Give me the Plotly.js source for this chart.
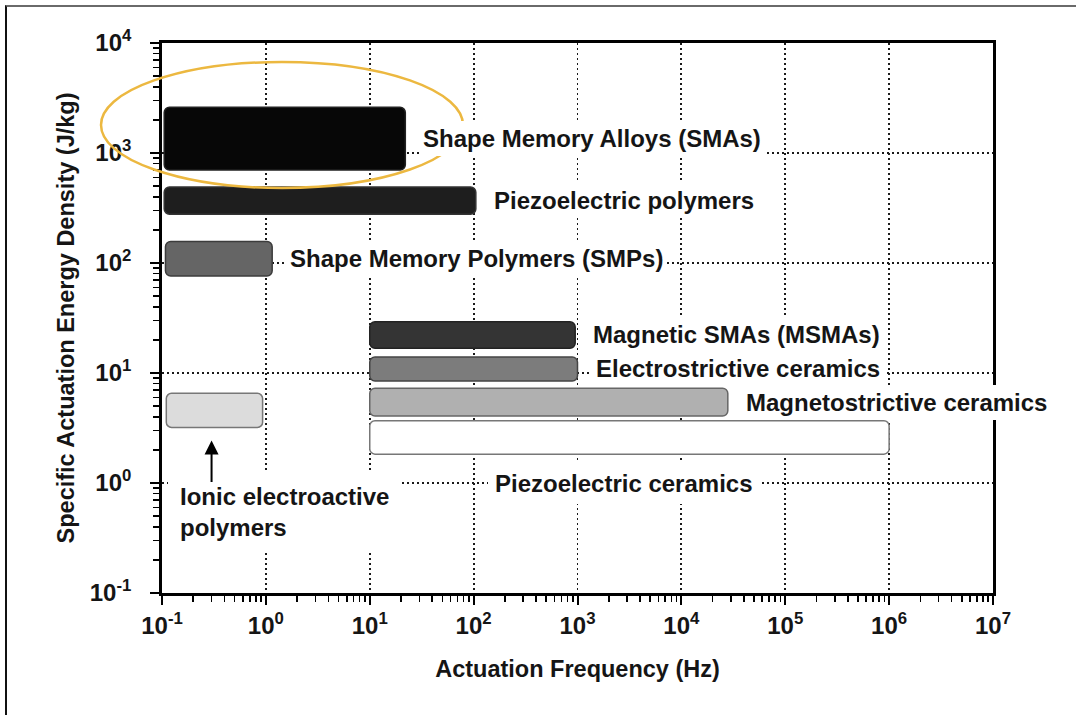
<!DOCTYPE html>
<html>
<head>
<meta charset="utf-8">
<script src="https://cdn.plot.ly/plotly-3.0.1.min.js"></script>
<style>
  html, body { margin: 0; padding: 0; background: #fff; }
  #chart { width: 1076px; height: 715px; }
  #frame { position: absolute; left: 5px; top: 5px; right: 0; bottom: 0;
           border-top: 2px solid #6a6a6a; border-left: 2px solid #111; pointer-events: none; }
</style>
</head>
<body>
<div id="chart"></div>
<div id="frame"></div>
<script>
// ---- data ----
const materials = [
  'Shape Memory Alloys (SMAs)',
  'Piezoelectric polymers',
  'Shape Memory Polymers (SMPs)',
  'Magnetic SMAs (MSMAs)',
  'Electrostrictive ceramics',
  'Magnetostrictive ceramics',
  'Piezoelectric ceramics',
  'Ionic electroactive<br>polymers'
];
const freqMin   = [0.105, 0.105, 0.108, 10, 10, 10, 10, 0.11];     // Hz
const freqMax   = [22, 105, 1.15, 950, 1000, 28000, 1e6, 0.93];    // Hz
const energyMin = [700, 278, 76, 16.8, 8.45, 4.06, 1.83, 3.2];      // J/kg
const energyMax = [2600, 490, 157, 29.3, 14, 7.26, 3.68, 6.53];     // J/kg
const fillColors = ['#070707', '#1e1e1e', '#656565', '#343434', '#7c7c7c', '#b0b0b0', '#ffffff', '#dcdcdc'];
const lineColors = ['#222222', '#333333', '#3c3c3c', '#222222', '#444444', '#666666', '#777777', '#777777'];
const labelPlacement = ['right', 'right', 'right', 'right', 'right', 'right', 'below', 'belowLeft'];

const xTickVals = [0.1, 1, 10, 100, 1e3, 1e4, 1e5, 1e6, 1e7];
const xTickText = ['10<sup>-1</sup>', '10<sup>0</sup>', '10<sup>1</sup>', '10<sup>2</sup>', '10<sup>3</sup>',
                   '10<sup>4</sup>', '10<sup>5</sup>', '10<sup>6</sup>', '10<sup>7</sup>'];
const yTickVals = [0.1, 1, 10, 100, 1e3, 1e4];
const yTickText = ['10<sup>-1</sup>', '10<sup>0</sup>', '10<sup>1</sup>', '10<sup>2</sup>', '10<sup>3</sup>', '10<sup>4</sup>'];
const arrowFreq = 0.3;  // Hz, arrow pointing at the ionic EAP bar

// ---- derived (log10 space for the overlay linear axes) ----
const L = Math.log10;
const barBase = freqMin.map(L);
const barLen = freqMax.map((v, i) => L(v) - L(freqMin[i]));
const barMid = energyMin.map((v, i) => (L(v) + L(energyMax[i])) / 2);
const barThk = energyMin.map((v, i) => L(energyMax[i]) - L(v));

const FONT = 'Liberation Sans, Arial, Helvetica, sans-serif';
const TXT = '#151515';

const bars = {
  type: 'bar', orientation: 'h',
  xaxis: 'x2', yaxis: 'y2',
  base: barBase, x: barLen, y: barMid, width: barThk,
  marker: { color: fillColors, line: { color: lineColors, width: 1.5 }, cornerradius: 6 },
  hoverinfo: 'skip', showlegend: false
};

// invisible trace on the log axes so they render
const anchor = {
  type: 'scatter', mode: 'markers', x: [1], y: [1],
  marker: { opacity: 0 }, hoverinfo: 'skip', showlegend: false
};

const annotations = [];
materials.forEach((name, i) => {
  const common = {
    text: name, showarrow: false, xref: 'x2', yref: 'y2',
    font: { family: FONT, size: 24, color: TXT, weight: 'bold' },
    bgcolor: '#ffffff', borderpad: 4, borderwidth: 0
  };
  if (labelPlacement[i] === 'right') {
    annotations.push(Object.assign(common, {
      x: L(freqMax[i]), y: barMid[i], xanchor: 'left', yanchor: 'middle', xshift: 14
    }));
  } else if (labelPlacement[i] === 'below') {
    annotations.push(Object.assign(common, {
      x: (L(freqMin[i]) + L(freqMax[i])) / 2, y: L(energyMin[i]),
      xanchor: 'center', yanchor: 'middle', yshift: -29, xshift: -5, borderpad: 7
    }));
  } else {
    annotations.push(Object.assign(common, {
      x: L(freqMin[i]), y: L(energyMin[i]), xanchor: 'left', yanchor: 'middle',
      align: 'left', xshift: 2, yshift: -85, borderpad: 12
    }));
  }
});
// arrow to the ionic EAP bar
annotations.push({
  xref: 'x2', yref: 'y2', x: L(arrowFreq), y: L(energyMin[7]),
  ax: 0, ay: 56, axref: 'pixel', ayref: 'pixel', text: '', showarrow: true,
  arrowhead: 2, arrowsize: 1.4, arrowwidth: 2, arrowcolor: '#000', standoff: 13
});

const gridDash = '1.8px,3.2px';
const layout = {
  width: 1076, height: 715,
  margin: { l: 162, r: 83, t: 43, b: 122 },
  paper_bgcolor: '#ffffff', plot_bgcolor: '#ffffff',
  font: { family: FONT, color: TXT },
  showlegend: false,
  xaxis: {
    type: 'log', range: [-1, 7], tickmode: 'array', tickvals: xTickVals, ticktext: xTickText,
    ticks: 'outside', ticklen: 9, tickwidth: 2, tickcolor: '#000',
    minor: { dtick: 'D1', ticks: 'outside', ticklen: 6, tickwidth: 1.6, tickcolor: '#000', showgrid: false },
    showline: true, linecolor: '#000', linewidth: 2.8, mirror: true,
    showgrid: true, gridcolor: '#1a1a1a', gridwidth: 1.8, griddash: gridDash,
    zeroline: false, ticklabelstandoff: 0,
    tickfont: { family: FONT, size: 24, color: TXT, weight: 'bold' },
    title: { text: 'Actuation Frequency (Hz)', standoff: 23,
             font: { family: FONT, size: 23.5, color: TXT, weight: 'bold' } },
    fixedrange: true
  },
  yaxis: {
    type: 'log', range: [-1, 4], tickmode: 'array', tickvals: yTickVals, ticktext: yTickText,
    ticks: 'outside', ticklen: 9, tickwidth: 2, tickcolor: '#000',
    minor: { dtick: 'D1', ticks: 'outside', ticklen: 6, tickwidth: 1.6, tickcolor: '#000', showgrid: false },
    showline: true, linecolor: '#000', linewidth: 2.8, mirror: true,
    showgrid: true, gridcolor: '#1a1a1a', gridwidth: 1.8, griddash: gridDash,
    zeroline: false, ticklabelstandoff: 14,
    tickfont: { family: FONT, size: 24, color: TXT, weight: 'bold' },
    title: { text: 'Specific Actuation Energy Density (J/kg)', standoff: 9,
             font: { family: FONT, size: 23.5, color: TXT, weight: 'bold' } },
    fixedrange: true
  },
  xaxis2: { overlaying: 'x', range: [-1, 7], visible: false, fixedrange: true },
  yaxis2: { overlaying: 'y', range: [-1, 4], visible: false, fixedrange: true },
  bargap: 0,
  annotations: annotations,
  shapes: [{
    type: 'circle', xref: 'paper', yref: 'paper',
    x0: -0.0734, x1: 0.3622, y0: 0.7364, y1: 0.9655,
    line: { color: '#ecb840', width: 2.5 }, layer: 'above'
  }]
};

Plotly.newPlot('chart', [anchor, bars], layout, { displayModeBar: false, staticPlot: true });
</script>
</body>
</html>
